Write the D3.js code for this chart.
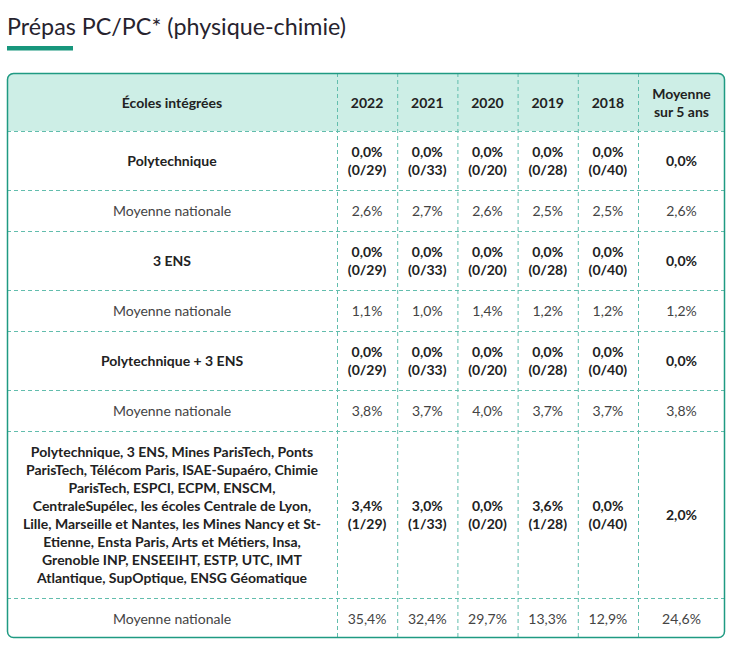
<!DOCTYPE html>
<html><head><meta charset="utf-8">
<script src="https://cdn.jsdelivr.net/npm/d3@7"></script>
<style>
html,body{margin:0;padding:0;background:#fff;}
svg{display:block;font-family:Lato,"Open Sans",sans-serif;}
</style></head>
<body><svg id="c" width="733" height="646"></svg>
<script>
const title = "Prépas PC/PC* (physique-chimie)";
const headerFirst = "Écoles intégrées";
const years = ["2022","2021","2020","2019","2018"];
const avgHeader = ["Moyenne","sur 5 ans"];
const nationalLabel = "Moyenne nationale";
const groupLabels = [
  ["Polytechnique"],
  ["3 ENS"],
  ["Polytechnique + 3 ENS"],
  ["Polytechnique, 3 ENS, Mines ParisTech, Ponts",
   "ParisTech, Télécom Paris, ISAE-Supaéro, Chimie",
   "ParisTech, ESPCI, ECPM, ENSCM,",
   "CentraleSupélec, les écoles Centrale de Lyon,",
   "Lille, Marseille et Nantes, les Mines Nancy et St-",
   "Etienne, Ensta Paris, Arts et Métiers, Insa,",
   "Grenoble INP, ENSEEIHT, ESTP, UTC, IMT",
   "Atlantique, SupOptique, ENSG Géomatique"]
];
const totals = [29, 33, 20, 28, 40];
const admitted = [
  [0,0,0,0,0],
  [0,0,0,0,0],
  [0,0,0,0,0],
  [1,1,0,1,0]
];
const rates = [
  [0.0,0.0,0.0,0.0,0.0],
  [0.0,0.0,0.0,0.0,0.0],
  [0.0,0.0,0.0,0.0,0.0],
  [3.4,3.0,0.0,3.6,0.0]
];
const rateAvg = [0.0, 0.0, 0.0, 2.0];
const national = [
  [2.6,2.7,2.6,2.5,2.5],
  [1.1,1.0,1.4,1.2,1.2],
  [3.8,3.7,4.0,3.7,3.7],
  [35.4,32.4,29.7,13.3,12.9]
];
const nationalAvg = [2.6, 1.2, 3.8, 24.6];

// ---------- layout ----------
const loc = d3.formatLocale({decimal:",", thousands:" ", grouping:[3], currency:["","€"]});
const pct = v => loc.format(".1f")(v) + "%";

const svg = d3.select("#c");
const L = 7, R = 725, T = 73, B = 638;
const firstColRight = 337, yearsRight = 638;
const x = d3.scaleBand().domain(years).range([firstColRight, yearsRight]);
const avgCx = (yearsRight + R) / 2;
const labelCx = (L + firstColRight) / 2;

const headerH = 58, groupH = 59, natH = 41, lineH = 18;
const rows = [];
let yy = T + headerH;
groupLabels.forEach((g, i) => {
  const h = Math.max(groupH, g.length * lineH + 23);
  rows.push({type:"g", i, y0: yy, y1: yy + h}); yy += h;
  rows.push({type:"n", i, y0: yy, y1: yy + natH}); yy += natH;
});

const teal = "#1f9a82", dash = "#62bdad", mint = "#cdeee6";
const dark = "#222", mid = "#444";

// title
svg.append("text").attr("x", 7).attr("y", 35).attr("font-size", 23.3)
  .attr("fill", "#27232e").text(title);
svg.append("rect").attr("x", 7).attr("y", 46).attr("width", 66).attr("height", 4.5).attr("fill", "#17967c");

// clip + header
svg.append("clipPath").attr("id","clip").append("rect")
  .attr("x", L).attr("y", T).attr("width", R-L).attr("height", B-T).attr("rx", 6);
const g = svg.append("g").attr("clip-path","url(#clip)");
g.append("rect").attr("x", L).attr("y", T).attr("width", R-L).attr("height", headerH).attr("fill", mint);

// grid
const vlines = [firstColRight, ...years.slice(1).map(d => x(d)), yearsRight];
g.selectAll("line.v").data(vlines).join("line").attr("class","v")
  .attr("x1", d => d + 0.5).attr("x2", d => d + 0.5).attr("y1", T).attr("y2", B)
  .attr("stroke", dash).attr("stroke-dasharray", "4,3");
g.selectAll("line.h").data(rows.map(r => r.y0)).join("line").attr("class","h")
  .attr("x1", L).attr("x2", R).attr("y1", d => d + 0.5).attr("y2", d => d + 0.5)
  .attr("stroke", dash).attr("stroke-dasharray", "4,3");

// header text
const hy = T + headerH / 2;
const txt = (sel, xx, yv, s, bold, col) => sel.append("text").attr("x", xx).attr("y", yv)
  .attr("text-anchor","middle").attr("dominant-baseline","central")
  .attr("font-size", 14).attr("font-weight", bold ? 700 : 400).attr("fill", col).text(s);
txt(svg, labelCx, hy, headerFirst, true, dark);
years.forEach(yv => txt(svg, x(yv) + x.bandwidth()/2, hy, yv, true, dark));
avgHeader.forEach((s, k) => txt(svg, avgCx, hy + (k - 0.5) * lineH, s, true, dark));

// body
rows.forEach(r => {
  const cy = (r.y0 + r.y1) / 2;
  if (r.type === "g") {
    const lines = groupLabels[r.i];
    lines.forEach((s, k) => txt(svg, labelCx, cy + (k - (lines.length - 1) / 2) * lineH, s, true, dark));
    years.forEach((yv, j) => {
      const cx = x(yv) + x.bandwidth()/2;
      txt(svg, cx, cy - lineH/2, pct(rates[r.i][j]), true, dark);
      txt(svg, cx, cy + lineH/2, "(" + admitted[r.i][j] + "/" + totals[j] + ")", true, dark);
    });
    txt(svg, avgCx, cy, pct(rateAvg[r.i]), true, dark);
  } else {
    txt(svg, labelCx, cy, nationalLabel, false, mid);
    years.forEach((yv, j) => txt(svg, x(yv) + x.bandwidth()/2, cy, pct(national[r.i][j]), false, mid));
    txt(svg, avgCx, cy, pct(nationalAvg[r.i]), false, mid);
  }
});

// outer border
svg.append("rect").attr("x", L + 0.5).attr("y", T + 0.5).attr("width", R - L - 1).attr("height", B - T - 1)
  .attr("rx", 6).attr("fill", "none").attr("stroke", teal).attr("stroke-width", 1.5);
</script></body></html>
